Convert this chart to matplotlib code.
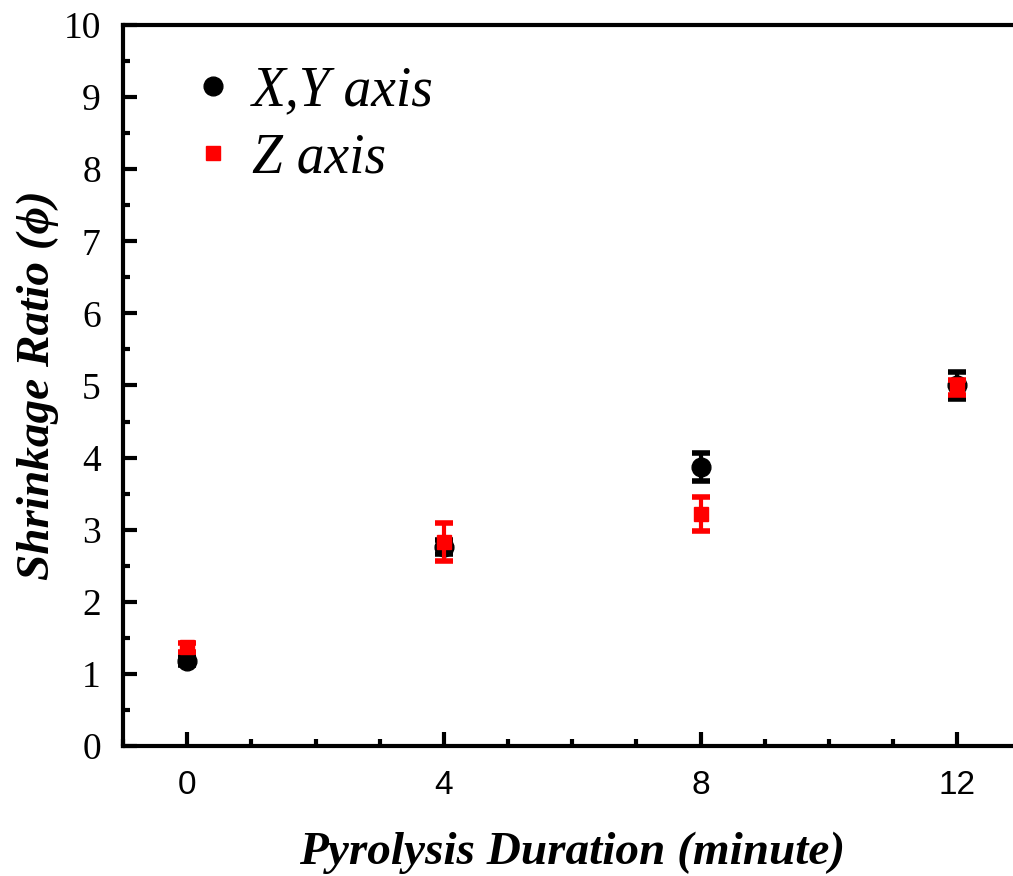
import matplotlib
matplotlib.use("Agg")
import matplotlib.pyplot as plt
from matplotlib.ticker import MultipleLocator

# Data
durations = [0, 4, 8, 12]
xy_values = [1.18, 2.76, 3.87, 5.00]
xy_errors = [0.05, 0.10, 0.19, 0.19]
z_values = [1.37, 2.83, 3.22, 4.97]
z_errors = [0.06, 0.26, 0.24, 0.10]
x_ticks = [0, 4, 8, 12]
y_ticks = list(range(0, 11))

fig = plt.figure(figsize=(10.13, 8.76), dpi=100)
ax = fig.add_axes([0.1214, 0.1484, 0.887, 0.8231])

ax.errorbar(durations, xy_values, yerr=xy_errors, fmt='o', color='black',
            ms=13.5, elinewidth=3, capsize=6.5, capthick=4, label='X,Y axis', zorder=3)
ax.errorbar(durations, z_values, yerr=z_errors, fmt='s', color='#ff0000',
            ms=10.5, elinewidth=3, capsize=6.5, capthick=4, label='Z axis', zorder=4)

ax.set_xlim(-1, 13)
ax.set_ylim(0, 10)
ax.set_xticks(x_ticks)
ax.set_yticks(y_ticks)
ax.xaxis.set_minor_locator(MultipleLocator(1))
ax.yaxis.set_minor_locator(MultipleLocator(0.5))

for s in ax.spines.values():
    s.set_linewidth(3)
ax.tick_params(which='both', direction='in', width=3, top=False, right=False)
ax.tick_params(which='major', length=10)
ax.tick_params(which='minor', length=5)
ax.tick_params(axis='x', pad=17)
ax.tick_params(axis='y', pad=16)

for lab in ax.get_xticklabels():
    lab.set_fontfamily('Liberation Sans')
    lab.set_fontsize(24)
for lab in ax.get_yticklabels():
    lab.set_fontfamily('Liberation Serif')
    lab.set_fontsize(27)

ax.set_xlabel('Pyrolysis Duration (minute)', fontfamily='Liberation Serif',
              fontstyle='italic', fontweight='bold', fontsize=34, labelpad=22)
ax.set_ylabel('Shrinkage Ratio (ϕ)', fontfamily=['Liberation Serif', 'DejaVu Serif'],
              fontstyle='italic', fontweight='bold', fontsize=34, labelpad=3)

handles, labels = ax.get_legend_handles_labels()
handles = [h[0] for h in handles]
leg = ax.legend(handles, labels, loc='upper left', bbox_to_anchor=(0.063, 0.944),
                frameon=False, handletextpad=0.1, handlelength=1.2,
                borderpad=0, borderaxespad=0,
                prop={'family': 'Liberation Serif', 'style': 'italic', 'size': 40},
                labelspacing=0.27, markerscale=1.0)

fig.savefig('out.png', dpi=100)
